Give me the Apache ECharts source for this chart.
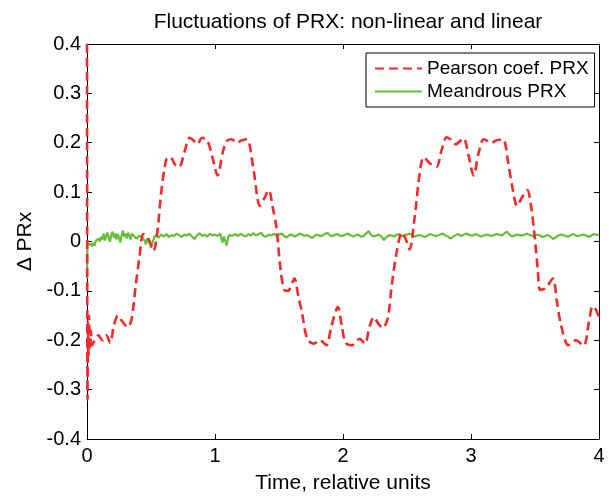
<!DOCTYPE html>
<html>
<head>
<meta charset="utf-8">
<script src="https://cdn.jsdelivr.net/npm/echarts@6/dist/echarts.min.js"></script>
<style>
  html, body { margin: 0; padding: 0; background: #fff; }
  #chart1 { width: 614px; height: 499px; }
</style>
</head>
<body>
<div id="chart1"></div>
<script>
// data: [time, delta PRx]
var pearson = [
  [0, 0.40], [0.004, -0.32], [0.008, -0.16], [0.012, -0.23], [0.016, -0.15], [0.022, -0.22],
  [0.03, -0.18], [0.04, -0.21], [0.06, -0.20], [0.09, -0.19], [0.12, -0.20], [0.15, -0.19],
  [0.18, -0.205], [0.21, -0.17], [0.24, -0.15], [0.27, -0.16], [0.30, -0.17], [0.32, -0.173],
  [0.35, -0.155], [0.38, -0.09], [0.41, -0.03], [0.44, 0.015], [0.48, 0.005], [0.52, -0.018],
  [0.55, 0.02], [0.58, 0.10], [0.62, 0.167], [0.65, 0.171], [0.69, 0.155], [0.72, 0.151],
  [0.76, 0.18], [0.80, 0.21], [0.83, 0.205], [0.86, 0.197], [0.90, 0.21], [0.94, 0.205],
  [0.98, 0.17], [1.02, 0.134], [1.06, 0.18], [1.09, 0.203], [1.13, 0.207], [1.17, 0.2],
  [1.21, 0.205], [1.25, 0.207], [1.30, 0.147], [1.35, 0.072], [1.38, 0.085], [1.42, 0.104],
  [1.45, 0.07], [1.48, 0.028], [1.51, -0.052], [1.54, -0.098], [1.57, -0.10], [1.62, -0.075],
  [1.65, -0.11], [1.68, -0.145], [1.72, -0.197], [1.77, -0.207], [1.82, -0.2], [1.87, -0.21],
  [1.91, -0.17], [1.96, -0.133], [1.99, -0.17], [2.02, -0.205], [2.07, -0.21], [2.13, -0.197],
  [2.17, -0.207], [2.21, -0.17], [2.24, -0.153], [2.28, -0.168], [2.31, -0.175], [2.35, -0.155],
  [2.38, -0.09], [2.42, -0.02], [2.46, 0.018], [2.49, 0.005], [2.52, -0.016], [2.56, 0.05],
  [2.60, 0.14], [2.63, 0.171], [2.68, 0.158], [2.73, 0.151], [2.77, 0.185], [2.81, 0.211],
  [2.85, 0.205], [2.88, 0.197], [2.94, 0.209], [2.98, 0.175], [3.02, 0.134], [3.06, 0.18],
  [3.10, 0.207], [3.16, 0.2], [3.20, 0.205], [3.25, 0.207], [3.29, 0.16], [3.32, 0.114],
  [3.36, 0.072], [3.40, 0.09], [3.44, 0.104], [3.47, 0.07], [3.49, 0.028], [3.52, -0.052],
  [3.54, -0.098], [3.58, -0.095], [3.64, -0.075], [3.67, -0.12], [3.70, -0.165], [3.76, -0.21],
  [3.82, -0.2], [3.88, -0.211], [3.92, -0.165], [3.95, -0.131], [3.98, -0.14], [4.0, -0.155]
];

var meandrous = [
  [0, -0.075], [0.003, 0.002], [0.01, -0.008], [0.02, -0.012], [0.03, -0.004], [0.04, -0.01],
  [0.05, -0.003], [0.06, -0.008], [0.07, 0.002], [0.08, -0.002], [0.09, 0.006], [0.10, 0.0],
  [0.11, 0.01], [0.12, 0.004], [0.13, 0.016], [0.14, 0.002], [0.15, 0.012], [0.16, 0.018],
  [0.17, 0.006], [0.18, 0.0], [0.19, 0.014], [0.20, 0.02], [0.21, 0.008], [0.22, 0.016],
  [0.23, 0.004], [0.24, 0.015], [0.25, 0.008], [0.26, -0.002], [0.27, 0.012], [0.28, 0.022],
  [0.29, 0.01], [0.30, 0.016], [0.31, 0.006], [0.32, 0.018], [0.33, 0.012], [0.34, 0.004],
  [0.35, 0.016], [0.36, 0.02], [0.37, 0.01], [0.38, 0.014], [0.39, 0.006], [0.40, 0.002],
  [0.41, 0.012], [0.42, 0.016], [0.43, 0.008], [0.44, 0.012], [0.45, 0.002], [0.46, -0.006],
  [0.47, 0.006], [0.48, 0.01], [0.49, -0.004], [0.50, -0.013], [0.51, -0.004], [0.52, 0.004],
  [0.53, 0.012], [0.54, 0.016], [0.56, 0.008], [0.58, 0.014], [0.60, 0.01], [0.62, 0.015],
  [0.64, 0.009], [0.66, 0.013], [0.68, 0.011], [0.70, 0.016], [0.72, 0.013], [0.74, 0.009],
  [0.76, 0.014], [0.78, 0.012], [0.80, 0.016], [0.82, 0.01], [0.84, 0.005], [0.86, 0.013],
  [0.88, 0.017], [0.90, 0.011], [0.92, 0.014], [0.94, 0.01], [0.96, 0.016], [0.98, 0.012],
  [1.00, 0.014], [1.02, 0.011], [1.04, 0.016], [1.05, 0.006], [1.06, -0.002], [1.07, 0.01],
  [1.08, 0.002], [1.09, -0.008], [1.10, 0.004], [1.11, 0.014], [1.13, 0.011], [1.16, 0.015],
  [1.18, 0.011], [1.20, 0.016], [1.22, 0.012], [1.24, 0.01], [1.26, 0.015], [1.28, 0.012],
  [1.30, 0.017], [1.32, 0.012], [1.34, 0.015], [1.36, 0.018], [1.38, 0.011], [1.40, 0.01],
  [1.42, 0.014], [1.44, 0.012], [1.46, 0.016], [1.48, 0.011], [1.50, 0.014], [1.52, 0.016],
  [1.54, 0.011], [1.56, 0.008], [1.58, 0.013], [1.60, 0.014], [1.62, 0.01], [1.64, 0.012],
  [1.66, 0.016], [1.68, 0.014], [1.70, 0.011], [1.72, 0.013], [1.74, 0.01], [1.76, 0.007],
  [1.78, 0.012], [1.80, 0.014], [1.82, 0.011], [1.84, 0.012], [1.86, 0.016], [1.88, 0.017],
  [1.90, 0.012], [1.92, 0.011], [1.94, 0.014], [1.96, 0.015], [1.98, 0.011], [2.00, 0.012],
  [2.02, 0.014], [2.04, 0.016], [2.06, 0.012], [2.08, 0.01], [2.10, 0.013], [2.12, 0.014],
  [2.14, 0.01], [2.16, 0.011], [2.18, 0.016], [2.20, 0.021], [2.22, 0.013], [2.24, 0.01],
  [2.26, 0.012], [2.28, 0.014], [2.30, 0.01], [2.32, 0.003], [2.34, 0.009], [2.36, 0.013],
  [2.38, 0.012], [2.40, 0.01], [2.42, 0.014], [2.44, 0.015], [2.46, 0.011], [2.48, 0.012],
  [2.50, 0.014], [2.52, 0.016], [2.54, 0.013], [2.56, 0.01], [2.58, 0.012], [2.60, 0.013],
  [2.62, 0.011], [2.64, 0.009], [2.66, 0.012], [2.68, 0.015], [2.70, 0.013], [2.72, 0.011],
  [2.74, 0.012], [2.76, 0.014], [2.78, 0.016], [2.80, 0.012], [2.82, 0.01], [2.84, 0.006],
  [2.86, 0.01], [2.88, 0.013], [2.90, 0.015], [2.92, 0.011], [2.94, 0.013], [2.96, 0.016],
  [2.98, 0.014], [3.00, 0.012], [3.02, 0.013], [3.04, 0.015], [3.06, 0.012], [3.08, 0.01],
  [3.10, 0.012], [3.12, 0.014], [3.14, 0.013], [3.16, 0.011], [3.18, 0.013], [3.20, 0.015],
  [3.22, 0.014], [3.24, 0.012], [3.26, 0.016], [3.28, 0.02], [3.30, 0.014], [3.32, 0.01],
  [3.34, 0.012], [3.36, 0.014], [3.38, 0.013], [3.40, 0.012], [3.42, 0.014], [3.44, 0.016],
  [3.46, 0.013], [3.48, 0.011], [3.50, 0.012], [3.52, 0.014], [3.54, 0.012], [3.56, 0.009],
  [3.58, 0.011], [3.60, 0.013], [3.62, 0.01], [3.64, 0.005], [3.66, 0.008], [3.68, 0.012],
  [3.70, 0.014], [3.72, 0.013], [3.74, 0.011], [3.76, 0.01], [3.78, 0.013], [3.80, 0.015],
  [3.82, 0.012], [3.84, 0.011], [3.86, 0.013], [3.88, 0.014], [3.90, 0.012], [3.92, 0.009],
  [3.94, 0.012], [3.96, 0.015], [3.98, 0.013], [4.00, 0.014]
];

var seriesNames = ['Pearson coef. PRX', 'Meandrous PRX'];

var font = "'Liberation Sans', Arial, sans-serif";
var tick = { show: true, inside: true, length: 5, lineStyle: { color: '#000', width: 1 } };
var line = { show: true, onZero: false, lineStyle: { color: '#000', width: 1 } };

var myChart = echarts.init(document.getElementById('chart1'));
var option = {
  animation: false,
  backgroundColor: '#fff',
  textStyle: { fontFamily: font },
  title: {
    text: 'Fluctuations of PRX: non-linear and linear',
    left: 343, top: 7, textAlign: 'center',
    textStyle: { fontFamily: font, fontSize: 21, fontWeight: 'normal', color: '#000' }
  },
  legend: {
    orient: 'vertical',
    left: 366, top: 53,
    padding: [6, 6, 6, 8],
    itemGap: 4,
    itemWidth: 47,
    itemHeight: 14,
    borderColor: '#000', borderWidth: 1,
    backgroundColor: '#fff',
    itemStyle: { opacity: 0 },
    textStyle: { fontFamily: font, fontSize: 19, color: '#000' },
    data: seriesNames
  },
  grid: { left: 87, right: 15, top: 44, bottom: 54 },
  xAxis: [{
    type: 'value', min: 0, max: 4, interval: 1, position: 'bottom',
    name: 'Time, relative units', nameLocation: 'middle', nameGap: 34,
    nameTextStyle: { fontFamily: font, fontSize: 21, color: '#000' },
    axisLine: line, axisTick: tick, splitLine: { show: false },
    axisLabel: { fontFamily: font, fontSize: 20, color: '#000', margin: 7 }
  }, {
    type: 'value', min: 0, max: 4, interval: 1, position: 'top',
    axisLine: line, axisTick: tick, splitLine: { show: false },
    axisLabel: { show: false }
  }],
  yAxis: [{
    type: 'value', min: -0.4, max: 0.4, interval: 0.1, position: 'left',
    name: '\u0394 PRx', nameLocation: 'middle', nameGap: 50, nameRotate: 90,
    nameTextStyle: { fontFamily: font, fontSize: 21, color: '#000' },
    axisLine: line, axisTick: tick, splitLine: { show: false },
    axisLabel: { fontFamily: font, fontSize: 20, color: '#000', margin: 6 }
  }, {
    type: 'value', min: -0.4, max: 0.4, interval: 0.1, position: 'right',
    axisLine: line, axisTick: tick, splitLine: { show: false },
    axisLabel: { show: false }
  }],
  series: [{
    name: seriesNames[0],
    type: 'line',
    data: pearson,
    symbol: 'none',
    smooth: 0.3,
    lineStyle: { color: '#f52a2a', width: 2.6, type: [9, 5] },
    itemStyle: { color: '#f52a2a' },
    z: 3
  }, {
    name: seriesNames[1],
    type: 'line',
    data: meandrous,
    symbol: 'none',
    lineStyle: { color: '#68bd3a', width: 2.2 },
    itemStyle: { color: '#68bd3a' },
    z: 2
  }]
};
option && myChart.setOption(option);
</script>
</body>
</html>
